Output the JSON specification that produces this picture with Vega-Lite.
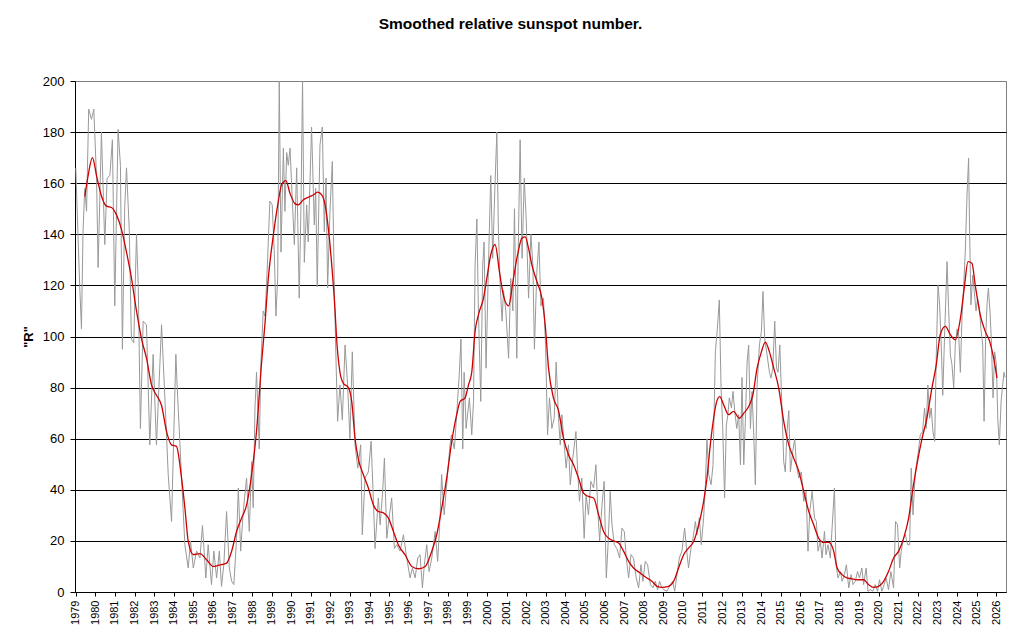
{
  "$schema": "https://vega.github.io/schema/vega-lite/v6.json",
  "width": 931,
  "height": 511,
  "autosize": {"type": "none"},
  "padding": {"left": 75, "top": 81, "right": 14, "bottom": 49},
  "background": "white",
  "title": {
    "text": "Smoothed relative sunspot number.",
    "font": "Liberation Sans",
    "fontSize": 15.5,
    "fontWeight": "bold",
    "color": "#000000",
    "anchor": "middle",
    "offset": 43,
    "dx": -30
  },
  "datasets": {
    "monthly": [
      {"t": 1979.00, "R": 166}, {"t": 1979.12, "R": 138}, {"t": 1979.20, "R": 120}, {"t": 1979.29, "R": 103},
      {"t": 1979.37, "R": 141}, {"t": 1979.46, "R": 158}, {"t": 1979.55, "R": 149}, {"t": 1979.66, "R": 189},
      {"t": 1979.80, "R": 185}, {"t": 1979.92, "R": 189}, {"t": 1980.06, "R": 162}, {"t": 1980.14, "R": 127},
      {"t": 1980.31, "R": 180}, {"t": 1980.48, "R": 136}, {"t": 1980.60, "R": 162}, {"t": 1980.74, "R": 163},
      {"t": 1980.87, "R": 177}, {"t": 1980.99, "R": 112}, {"t": 1981.16, "R": 181}, {"t": 1981.28, "R": 167},
      {"t": 1981.38, "R": 95}, {"t": 1981.50, "R": 151}, {"t": 1981.59, "R": 166}, {"t": 1981.73, "R": 142},
      {"t": 1981.84, "R": 99}, {"t": 1981.96, "R": 97.5}, {"t": 1982.10, "R": 140}, {"t": 1982.19, "R": 120},
      {"t": 1982.30, "R": 64}, {"t": 1982.44, "R": 106}, {"t": 1982.61, "R": 104.6}, {"t": 1982.78, "R": 57.6},
      {"t": 1982.95, "R": 93}, {"t": 1983.12, "R": 57.6}, {"t": 1983.38, "R": 104.6}, {"t": 1983.55, "R": 76},
      {"t": 1983.72, "R": 46}, {"t": 1983.89, "R": 27.6}, {"t": 1984.11, "R": 93}, {"t": 1984.18, "R": 80},
      {"t": 1984.32, "R": 57.6}, {"t": 1984.57, "R": 18.5}, {"t": 1984.74, "R": 9.4}, {"t": 1984.86, "R": 20},
      {"t": 1985.00, "R": 9.4}, {"t": 1985.17, "R": 16}, {"t": 1985.34, "R": 13.3}, {"t": 1985.47, "R": 26},
      {"t": 1985.64, "R": 5.5}, {"t": 1985.76, "R": 18.5}, {"t": 1985.93, "R": 2.9}, {"t": 1986.05, "R": 16},
      {"t": 1986.19, "R": 5.5}, {"t": 1986.33, "R": 16}, {"t": 1986.44, "R": 2.2}, {"t": 1986.56, "R": 10.7},
      {"t": 1986.70, "R": 31.5}, {"t": 1986.84, "R": 9.4}, {"t": 1986.96, "R": 4.2}, {"t": 1987.07, "R": 2.9},
      {"t": 1987.21, "R": 21}, {"t": 1987.30, "R": 40.7}, {"t": 1987.42, "R": 16}, {"t": 1987.55, "R": 31.5},
      {"t": 1987.72, "R": 44.6}, {"t": 1987.86, "R": 23.7}, {"t": 1987.98, "R": 51}, {"t": 1988.06, "R": 33},
      {"t": 1988.15, "R": 72}, {"t": 1988.23, "R": 86}, {"t": 1988.37, "R": 56}, {"t": 1988.45, "R": 89},
      {"t": 1988.57, "R": 110}, {"t": 1988.66, "R": 108}, {"t": 1988.74, "R": 120}, {"t": 1988.80, "R": 131},
      {"t": 1988.91, "R": 153}, {"t": 1989.03, "R": 151.5}, {"t": 1989.14, "R": 132}, {"t": 1989.22, "R": 108},
      {"t": 1989.31, "R": 123}, {"t": 1989.39, "R": 200}, {"t": 1989.48, "R": 133}, {"t": 1989.60, "R": 173.7},
      {"t": 1989.68, "R": 149}, {"t": 1989.77, "R": 172}, {"t": 1989.85, "R": 167}, {"t": 1989.94, "R": 173.7},
      {"t": 1990.06, "R": 152.8}, {"t": 1990.16, "R": 136}, {"t": 1990.28, "R": 166}, {"t": 1990.41, "R": 115},
      {"t": 1990.50, "R": 151.5}, {"t": 1990.58, "R": 200}, {"t": 1990.67, "R": 129}, {"t": 1990.79, "R": 151.5},
      {"t": 1990.87, "R": 137}, {"t": 1991.04, "R": 182}, {"t": 1991.18, "R": 143.7}, {"t": 1991.25, "R": 158},
      {"t": 1991.33, "R": 119.5}, {"t": 1991.47, "R": 175}, {"t": 1991.59, "R": 182}, {"t": 1991.69, "R": 141},
      {"t": 1991.78, "R": 162}, {"t": 1991.86, "R": 119}, {"t": 1991.98, "R": 149}, {"t": 1992.10, "R": 168.5},
      {"t": 1992.20, "R": 120}, {"t": 1992.29, "R": 90}, {"t": 1992.37, "R": 66.8}, {"t": 1992.49, "R": 81},
      {"t": 1992.61, "R": 67.4}, {"t": 1992.75, "R": 96.7}, {"t": 1992.88, "R": 81}, {"t": 1993.00, "R": 60},
      {"t": 1993.12, "R": 94}, {"t": 1993.26, "R": 57.6}, {"t": 1993.40, "R": 48.5}, {"t": 1993.55, "R": 57.6},
      {"t": 1993.63, "R": 22.4}, {"t": 1993.77, "R": 44.6}, {"t": 1993.94, "R": 47}, {"t": 1994.08, "R": 59},
      {"t": 1994.20, "R": 35.5}, {"t": 1994.28, "R": 17}, {"t": 1994.45, "R": 36.8}, {"t": 1994.54, "R": 26.3},
      {"t": 1994.66, "R": 38}, {"t": 1994.76, "R": 52.4}, {"t": 1994.88, "R": 21}, {"t": 1995.00, "R": 29},
      {"t": 1995.13, "R": 36.8}, {"t": 1995.27, "R": 17}, {"t": 1995.39, "R": 18.5}, {"t": 1995.56, "R": 16},
      {"t": 1995.73, "R": 22.4}, {"t": 1995.90, "R": 13.3}, {"t": 1996.07, "R": 5.5}, {"t": 1996.19, "R": 9.4},
      {"t": 1996.33, "R": 5.5}, {"t": 1996.46, "R": 13.3}, {"t": 1996.58, "R": 14.6}, {"t": 1996.70, "R": 1.6},
      {"t": 1996.80, "R": 10.7}, {"t": 1996.92, "R": 18.5}, {"t": 1997.04, "R": 8}, {"t": 1997.18, "R": 13.3},
      {"t": 1997.35, "R": 23.7}, {"t": 1997.48, "R": 12}, {"t": 1997.60, "R": 29}, {"t": 1997.68, "R": 46},
      {"t": 1997.81, "R": 30.2}, {"t": 1997.94, "R": 42}, {"t": 1998.11, "R": 57.6}, {"t": 1998.18, "R": 61.5},
      {"t": 1998.33, "R": 56}, {"t": 1998.45, "R": 69.4}, {"t": 1998.57, "R": 83.7}, {"t": 1998.67, "R": 99},
      {"t": 1998.76, "R": 56}, {"t": 1998.83, "R": 86}, {"t": 1998.93, "R": 64}, {"t": 1999.10, "R": 76},
      {"t": 1999.22, "R": 61.5}, {"t": 1999.31, "R": 74.6}, {"t": 1999.39, "R": 128}, {"t": 1999.48, "R": 146},
      {"t": 1999.56, "R": 110}, {"t": 1999.68, "R": 74.6}, {"t": 1999.78, "R": 128}, {"t": 1999.85, "R": 137},
      {"t": 1999.95, "R": 87.6}, {"t": 2000.07, "R": 126.7}, {"t": 2000.19, "R": 163}, {"t": 2000.29, "R": 130.6},
      {"t": 2000.40, "R": 158}, {"t": 2000.50, "R": 180}, {"t": 2000.58, "R": 142}, {"t": 2000.67, "R": 120},
      {"t": 2000.77, "R": 106}, {"t": 2000.84, "R": 118}, {"t": 2000.96, "R": 110}, {"t": 2001.10, "R": 91.5},
      {"t": 2001.21, "R": 122.7}, {"t": 2001.32, "R": 110}, {"t": 2001.40, "R": 150}, {"t": 2001.52, "R": 91.5},
      {"t": 2001.61, "R": 142}, {"t": 2001.69, "R": 177}, {"t": 2001.79, "R": 130.6}, {"t": 2001.90, "R": 162},
      {"t": 2002.00, "R": 146}, {"t": 2002.12, "R": 115}, {"t": 2002.24, "R": 140}, {"t": 2002.34, "R": 128},
      {"t": 2002.42, "R": 95}, {"t": 2002.54, "R": 125}, {"t": 2002.65, "R": 137}, {"t": 2002.75, "R": 112},
      {"t": 2002.88, "R": 115}, {"t": 2002.99, "R": 96.7}, {"t": 2003.09, "R": 61.5}, {"t": 2003.19, "R": 76},
      {"t": 2003.31, "R": 64}, {"t": 2003.43, "R": 68}, {"t": 2003.53, "R": 90}, {"t": 2003.65, "R": 68},
      {"t": 2003.74, "R": 57.6}, {"t": 2003.82, "R": 69.4}, {"t": 2003.94, "R": 57.6}, {"t": 2004.04, "R": 48.5},
      {"t": 2004.16, "R": 57.6}, {"t": 2004.25, "R": 42}, {"t": 2004.38, "R": 52.4}, {"t": 2004.54, "R": 62.8},
      {"t": 2004.62, "R": 48.5}, {"t": 2004.72, "R": 35.5}, {"t": 2004.84, "R": 44.6}, {"t": 2004.96, "R": 21},
      {"t": 2005.06, "R": 38}, {"t": 2005.18, "R": 30.2}, {"t": 2005.30, "R": 43.3}, {"t": 2005.44, "R": 40.7},
      {"t": 2005.56, "R": 49.8}, {"t": 2005.66, "R": 31.5}, {"t": 2005.75, "R": 20}, {"t": 2005.87, "R": 34},
      {"t": 2005.98, "R": 43.3}, {"t": 2006.09, "R": 5.5}, {"t": 2006.17, "R": 17}, {"t": 2006.29, "R": 39.4},
      {"t": 2006.38, "R": 26.3}, {"t": 2006.50, "R": 18.5}, {"t": 2006.63, "R": 17}, {"t": 2006.77, "R": 13.3},
      {"t": 2006.89, "R": 25}, {"t": 2007.01, "R": 23.7}, {"t": 2007.11, "R": 13.3}, {"t": 2007.23, "R": 5.5},
      {"t": 2007.35, "R": 14.6}, {"t": 2007.48, "R": 13.3}, {"t": 2007.62, "R": 5.5}, {"t": 2007.74, "R": 1.6},
      {"t": 2007.86, "R": 10.7}, {"t": 2007.96, "R": 4.2}, {"t": 2008.08, "R": 12}, {"t": 2008.20, "R": 10.7},
      {"t": 2008.34, "R": 2.9}, {"t": 2008.47, "R": 1.6}, {"t": 2008.59, "R": 4.2}, {"t": 2008.71, "R": 0.9},
      {"t": 2008.81, "R": 4.2}, {"t": 2008.90, "R": 2.2}, {"t": 2009.02, "R": 0.9}, {"t": 2009.19, "R": 0.3},
      {"t": 2009.36, "R": 2.9}, {"t": 2009.48, "R": 4.2}, {"t": 2009.58, "R": 0.3}, {"t": 2009.70, "R": 6.8},
      {"t": 2009.82, "R": 13.3}, {"t": 2009.95, "R": 16}, {"t": 2010.09, "R": 25}, {"t": 2010.21, "R": 15},
      {"t": 2010.29, "R": 9.4}, {"t": 2010.41, "R": 17}, {"t": 2010.52, "R": 21}, {"t": 2010.64, "R": 27.6},
      {"t": 2010.72, "R": 22.4}, {"t": 2010.84, "R": 29}, {"t": 2010.94, "R": 18.5}, {"t": 2011.06, "R": 29},
      {"t": 2011.15, "R": 42}, {"t": 2011.23, "R": 60}, {"t": 2011.32, "R": 46}, {"t": 2011.44, "R": 42},
      {"t": 2011.54, "R": 49.8}, {"t": 2011.66, "R": 94}, {"t": 2011.76, "R": 103}, {"t": 2011.86, "R": 114.3},
      {"t": 2011.95, "R": 80}, {"t": 2012.03, "R": 65.4}, {"t": 2012.13, "R": 36.8}, {"t": 2012.22, "R": 65.4},
      {"t": 2012.30, "R": 69.4}, {"t": 2012.37, "R": 76}, {"t": 2012.48, "R": 72}, {"t": 2012.56, "R": 78.5},
      {"t": 2012.65, "R": 70.7}, {"t": 2012.75, "R": 64}, {"t": 2012.85, "R": 69.4}, {"t": 2012.94, "R": 49.8},
      {"t": 2013.02, "R": 84}, {"t": 2013.11, "R": 49.8}, {"t": 2013.19, "R": 66.8}, {"t": 2013.28, "R": 90},
      {"t": 2013.36, "R": 96.7}, {"t": 2013.45, "R": 64}, {"t": 2013.53, "R": 78.5}, {"t": 2013.62, "R": 61.5},
      {"t": 2013.70, "R": 42}, {"t": 2013.79, "R": 81}, {"t": 2013.91, "R": 96.7}, {"t": 2014.01, "R": 102},
      {"t": 2014.09, "R": 117.6}, {"t": 2014.18, "R": 99}, {"t": 2014.30, "R": 92.8}, {"t": 2014.42, "R": 86},
      {"t": 2014.50, "R": 83.7}, {"t": 2014.59, "R": 87.6}, {"t": 2014.69, "R": 106}, {"t": 2014.78, "R": 87.6},
      {"t": 2014.86, "R": 86}, {"t": 2014.95, "R": 96.7}, {"t": 2015.03, "R": 78.5}, {"t": 2015.15, "R": 51},
      {"t": 2015.23, "R": 47}, {"t": 2015.32, "R": 62.8}, {"t": 2015.41, "R": 71}, {"t": 2015.49, "R": 47},
      {"t": 2015.61, "R": 55}, {"t": 2015.71, "R": 60}, {"t": 2015.80, "R": 49.8}, {"t": 2015.92, "R": 44.6},
      {"t": 2016.05, "R": 47}, {"t": 2016.17, "R": 35.5}, {"t": 2016.29, "R": 39.4}, {"t": 2016.39, "R": 16},
      {"t": 2016.48, "R": 31.5}, {"t": 2016.60, "R": 39.4}, {"t": 2016.72, "R": 29}, {"t": 2016.82, "R": 27.6},
      {"t": 2016.90, "R": 16}, {"t": 2017.02, "R": 19.8}, {"t": 2017.11, "R": 13.3}, {"t": 2017.23, "R": 23.7},
      {"t": 2017.31, "R": 14.6}, {"t": 2017.41, "R": 18.5}, {"t": 2017.53, "R": 13.3}, {"t": 2017.65, "R": 29},
      {"t": 2017.74, "R": 40.7}, {"t": 2017.82, "R": 10.7}, {"t": 2017.92, "R": 5.5}, {"t": 2018.05, "R": 8},
      {"t": 2018.13, "R": 4.2}, {"t": 2018.25, "R": 6.8}, {"t": 2018.35, "R": 10.7}, {"t": 2018.47, "R": 1.6},
      {"t": 2018.59, "R": 6.8}, {"t": 2018.69, "R": 2.9}, {"t": 2018.80, "R": 4.2}, {"t": 2018.92, "R": 8},
      {"t": 2019.02, "R": 5.5}, {"t": 2019.14, "R": 9.4}, {"t": 2019.23, "R": 2.9}, {"t": 2019.36, "R": 9.4},
      {"t": 2019.45, "R": 0.3}, {"t": 2019.57, "R": 0.9}, {"t": 2019.70, "R": 0.3}, {"t": 2019.82, "R": 2.9},
      {"t": 2019.94, "R": 0.3}, {"t": 2020.04, "R": 4.8}, {"t": 2020.16, "R": 0.3}, {"t": 2020.28, "R": 2.9},
      {"t": 2020.38, "R": 5.5}, {"t": 2020.50, "R": 0.9}, {"t": 2020.62, "R": 8}, {"t": 2020.76, "R": 1.6},
      {"t": 2020.86, "R": 27.6}, {"t": 2020.96, "R": 26.3}, {"t": 2021.07, "R": 9.4}, {"t": 2021.15, "R": 16},
      {"t": 2021.27, "R": 21}, {"t": 2021.36, "R": 22.4}, {"t": 2021.48, "R": 18.5}, {"t": 2021.58, "R": 18.5},
      {"t": 2021.66, "R": 48.5}, {"t": 2021.75, "R": 30.2}, {"t": 2021.87, "R": 47}, {"t": 2021.95, "R": 51},
      {"t": 2022.04, "R": 56}, {"t": 2022.12, "R": 61.5}, {"t": 2022.24, "R": 62.8}, {"t": 2022.34, "R": 72},
      {"t": 2022.43, "R": 64}, {"t": 2022.51, "R": 81}, {"t": 2022.60, "R": 68}, {"t": 2022.68, "R": 72},
      {"t": 2022.77, "R": 62.8}, {"t": 2022.86, "R": 59}, {"t": 2022.94, "R": 92.8}, {"t": 2023.03, "R": 120},
      {"t": 2023.11, "R": 112.4}, {"t": 2023.20, "R": 95.3}, {"t": 2023.27, "R": 77}, {"t": 2023.37, "R": 102},
      {"t": 2023.49, "R": 129.3}, {"t": 2023.57, "R": 111}, {"t": 2023.66, "R": 92.8}, {"t": 2023.74, "R": 89},
      {"t": 2023.83, "R": 80}, {"t": 2023.91, "R": 96.7}, {"t": 2024.00, "R": 103}, {"t": 2024.08, "R": 101},
      {"t": 2024.17, "R": 86}, {"t": 2024.25, "R": 107}, {"t": 2024.34, "R": 120}, {"t": 2024.42, "R": 133},
      {"t": 2024.51, "R": 155.4}, {"t": 2024.59, "R": 169.8}, {"t": 2024.64, "R": 142}, {"t": 2024.71, "R": 112.4},
      {"t": 2024.80, "R": 124}, {"t": 2024.88, "R": 117.6}, {"t": 2024.97, "R": 110}, {"t": 2025.05, "R": 115},
      {"t": 2025.14, "R": 111}, {"t": 2025.22, "R": 103}, {"t": 2025.31, "R": 96.7}, {"t": 2025.38, "R": 66.8},
      {"t": 2025.46, "R": 99}, {"t": 2025.53, "R": 112.4}, {"t": 2025.60, "R": 119}, {"t": 2025.68, "R": 110},
      {"t": 2025.75, "R": 99}, {"t": 2025.84, "R": 76}, {"t": 2025.92, "R": 94}, {"t": 2026.01, "R": 89},
      {"t": 2026.08, "R": 68}, {"t": 2026.16, "R": 57.6}, {"t": 2026.25, "R": 74.6}, {"t": 2026.33, "R": 81},
      {"t": 2026.40, "R": 86}, {"t": 2026.45, "R": 84}
    ],
    "smoothed": [
      {"t": 1979.46, "R": 154.8}, {"t": 1979.63, "R": 163}, {"t": 1979.85, "R": 170}, {"t": 1980.06, "R": 163},
      {"t": 1980.31, "R": 155}, {"t": 1980.57, "R": 151}, {"t": 1980.82, "R": 150.5}, {"t": 1981.08, "R": 147.6},
      {"t": 1981.33, "R": 142}, {"t": 1981.59, "R": 133}, {"t": 1981.84, "R": 123}, {"t": 1982.10, "R": 110},
      {"t": 1982.36, "R": 99}, {"t": 1982.61, "R": 91.5}, {"t": 1982.87, "R": 81}, {"t": 1983.12, "R": 77},
      {"t": 1983.38, "R": 73}, {"t": 1983.63, "R": 63}, {"t": 1983.89, "R": 57.6}, {"t": 1984.14, "R": 57},
      {"t": 1984.40, "R": 44.6}, {"t": 1984.57, "R": 33}, {"t": 1984.74, "R": 20}, {"t": 1985.00, "R": 14.6},
      {"t": 1985.34, "R": 15}, {"t": 1985.68, "R": 12.6}, {"t": 1986.02, "R": 10}, {"t": 1986.27, "R": 10.4},
      {"t": 1986.70, "R": 11.3}, {"t": 1986.96, "R": 16}, {"t": 1987.21, "R": 23.7}, {"t": 1987.47, "R": 29},
      {"t": 1987.72, "R": 34}, {"t": 1987.98, "R": 46}, {"t": 1988.23, "R": 63}, {"t": 1988.49, "R": 90},
      {"t": 1988.66, "R": 105}, {"t": 1988.83, "R": 122.7}, {"t": 1989.09, "R": 139.8}, {"t": 1989.34, "R": 152.8},
      {"t": 1989.51, "R": 159.4}, {"t": 1989.73, "R": 161}, {"t": 1989.94, "R": 156}, {"t": 1990.19, "R": 152},
      {"t": 1990.36, "R": 151.5}, {"t": 1990.62, "R": 153.5}, {"t": 1990.87, "R": 154.5}, {"t": 1991.13, "R": 155.4},
      {"t": 1991.35, "R": 156.5}, {"t": 1991.56, "R": 155.4}, {"t": 1991.73, "R": 151.5}, {"t": 1991.90, "R": 142},
      {"t": 1992.07, "R": 128}, {"t": 1992.24, "R": 110}, {"t": 1992.32, "R": 99}, {"t": 1992.49, "R": 86},
      {"t": 1992.66, "R": 81.7}, {"t": 1992.92, "R": 80}, {"t": 1993.09, "R": 74.6}, {"t": 1993.26, "R": 60},
      {"t": 1993.43, "R": 52}, {"t": 1993.68, "R": 46}, {"t": 1993.94, "R": 40.7}, {"t": 1994.20, "R": 34},
      {"t": 1994.45, "R": 31.5}, {"t": 1994.71, "R": 31}, {"t": 1994.96, "R": 29}, {"t": 1995.22, "R": 23.7},
      {"t": 1995.47, "R": 18.5}, {"t": 1995.81, "R": 14.6}, {"t": 1996.16, "R": 10}, {"t": 1996.50, "R": 9.1},
      {"t": 1996.84, "R": 10}, {"t": 1997.18, "R": 16}, {"t": 1997.43, "R": 22.4}, {"t": 1997.69, "R": 33},
      {"t": 1997.94, "R": 44.6}, {"t": 1998.20, "R": 59}, {"t": 1998.45, "R": 69.4}, {"t": 1998.63, "R": 74.6},
      {"t": 1998.88, "R": 76}, {"t": 1999.05, "R": 81}, {"t": 1999.22, "R": 86}, {"t": 1999.39, "R": 102},
      {"t": 1999.56, "R": 108.5}, {"t": 1999.82, "R": 115}, {"t": 1999.99, "R": 122.8}, {"t": 2000.19, "R": 132},
      {"t": 2000.41, "R": 136}, {"t": 2000.64, "R": 125}, {"t": 2000.84, "R": 116}, {"t": 2001.10, "R": 112},
      {"t": 2001.35, "R": 122.8}, {"t": 2001.56, "R": 132}, {"t": 2001.78, "R": 138.5}, {"t": 2001.95, "R": 139},
      {"t": 2002.12, "R": 134.5}, {"t": 2002.29, "R": 128}, {"t": 2002.54, "R": 121.6}, {"t": 2002.80, "R": 115},
      {"t": 2002.97, "R": 104.6}, {"t": 2003.14, "R": 87.6}, {"t": 2003.39, "R": 76}, {"t": 2003.65, "R": 71},
      {"t": 2003.91, "R": 60}, {"t": 2004.16, "R": 53.7}, {"t": 2004.42, "R": 49.8}, {"t": 2004.67, "R": 44.6},
      {"t": 2004.93, "R": 38.7}, {"t": 2005.18, "R": 37.4}, {"t": 2005.44, "R": 36.8}, {"t": 2005.70, "R": 30.2},
      {"t": 2005.95, "R": 23.7}, {"t": 2006.21, "R": 21}, {"t": 2006.46, "R": 20}, {"t": 2006.72, "R": 19.2},
      {"t": 2006.97, "R": 16}, {"t": 2007.23, "R": 12}, {"t": 2007.48, "R": 9.4}, {"t": 2007.82, "R": 7.4},
      {"t": 2008.16, "R": 5.5}, {"t": 2008.42, "R": 4.2}, {"t": 2008.68, "R": 2.2}, {"t": 2008.93, "R": 1.8},
      {"t": 2009.27, "R": 2.2}, {"t": 2009.53, "R": 4.2}, {"t": 2009.78, "R": 9.4}, {"t": 2010.04, "R": 14.6},
      {"t": 2010.29, "R": 17.2}, {"t": 2010.55, "R": 19.8}, {"t": 2010.81, "R": 26.3}, {"t": 2011.06, "R": 35.5},
      {"t": 2011.23, "R": 44.6}, {"t": 2011.40, "R": 57.6}, {"t": 2011.57, "R": 68}, {"t": 2011.71, "R": 74},
      {"t": 2011.88, "R": 76.5}, {"t": 2012.08, "R": 73.3}, {"t": 2012.34, "R": 69.4}, {"t": 2012.59, "R": 70.7},
      {"t": 2012.88, "R": 68}, {"t": 2013.11, "R": 70}, {"t": 2013.36, "R": 72.6}, {"t": 2013.57, "R": 77},
      {"t": 2013.79, "R": 87.6}, {"t": 2014.01, "R": 94}, {"t": 2014.21, "R": 97.8}, {"t": 2014.42, "R": 94},
      {"t": 2014.64, "R": 87.6}, {"t": 2014.89, "R": 80}, {"t": 2015.15, "R": 66.8}, {"t": 2015.41, "R": 57.6},
      {"t": 2015.66, "R": 52.4}, {"t": 2015.92, "R": 47.2}, {"t": 2016.17, "R": 39.4}, {"t": 2016.43, "R": 31.5},
      {"t": 2016.68, "R": 26.3}, {"t": 2016.94, "R": 21}, {"t": 2017.19, "R": 19.4}, {"t": 2017.45, "R": 19.4},
      {"t": 2017.70, "R": 16}, {"t": 2017.88, "R": 9.4}, {"t": 2018.13, "R": 6.8}, {"t": 2018.37, "R": 5.5},
      {"t": 2018.60, "R": 5.2}, {"t": 2018.89, "R": 4.8}, {"t": 2019.23, "R": 4.8}, {"t": 2019.48, "R": 2.9},
      {"t": 2019.74, "R": 1.8}, {"t": 2019.99, "R": 2.2}, {"t": 2020.25, "R": 4.2}, {"t": 2020.50, "R": 8},
      {"t": 2020.76, "R": 13.3}, {"t": 2021.02, "R": 16}, {"t": 2021.27, "R": 21}, {"t": 2021.53, "R": 29},
      {"t": 2021.75, "R": 40.7}, {"t": 2021.95, "R": 49.8}, {"t": 2022.21, "R": 60}, {"t": 2022.46, "R": 68},
      {"t": 2022.72, "R": 80}, {"t": 2022.94, "R": 89}, {"t": 2023.14, "R": 100.7}, {"t": 2023.40, "R": 104},
      {"t": 2023.66, "R": 100.7}, {"t": 2023.91, "R": 98.7}, {"t": 2024.17, "R": 107}, {"t": 2024.37, "R": 119},
      {"t": 2024.56, "R": 129.3}, {"t": 2024.76, "R": 128.7}, {"t": 2024.93, "R": 120}, {"t": 2025.19, "R": 108.3},
      {"t": 2025.44, "R": 102}, {"t": 2025.67, "R": 98}, {"t": 2025.87, "R": 91.5}, {"t": 2026.04, "R": 83.7}
    ]
  },
  "layer": [
    {
      "data": {"name": "monthly"},
      "mark": {"type": "line", "color": "#999999", "strokeWidth": 1, "clip": true},
      "encoding": {
        "x": {
          "field": "t",
          "type": "quantitative",
          "scale": {"domain": [1978.96, 2026.5], "nice": false, "zero": false},
          "axis": {
            "title": null,
            "values": [1979, 1980, 1981, 1982, 1983, 1984, 1985, 1986, 1987, 1988, 1989, 1990, 1991, 1992, 1993, 1994,
                       1995, 1996, 1997, 1998, 1999, 2000, 2001, 2002, 2003, 2004, 2005, 2006, 2007, 2008, 2009, 2010,
                       2011, 2012, 2013, 2014, 2015, 2016, 2017, 2018, 2019, 2020, 2021, 2022, 2023, 2024, 2025, 2026],
            "tickCount": 100,
            "format": "d",
            "grid": false,
            "labelAngle": -90,
            "labelFontSize": 11,
            "labelPadding": 4,
            "labelOverlap": false,
            "labelFlush": false,
            "labelBound": false,
            "tickSize": 4,
            "tickColor": "#000000",
            "domainColor": "#000000",
            "labelColor": "#000000"
          }
        },
        "y": {
          "field": "R",
          "type": "quantitative",
          "scale": {"domain": [0, 200], "nice": false},
          "axis": {
            "title": "\"R\"",
            "values": [0, 20, 40, 60, 80, 100, 120, 140, 160, 180, 200],
            "tickCount": 20,
            "grid": true,
            "gridColor": {"condition": {"test": "datum.value >= 200", "value": "#808080"}, "value": "#000000"},
            "gridWidth": 1,
            "gridOpacity": 1,
            "labelFontSize": 13,
            "labelPadding": 6,
            "tickSize": 5,
            "tickColor": "#000000",
            "domainColor": "#000000",
            "labelColor": "#000000",
            "titleFontSize": 13,
            "titleFontWeight": "bold",
            "titleColor": "#000000",
            "titlePadding": 7
          }
        }
      }
    },
    {
      "data": {"name": "smoothed"},
      "mark": {"type": "line", "color": "#cc0000", "strokeWidth": 1.3, "interpolate": "monotone", "clip": true},
      "encoding": {
        "x": {"field": "t", "type": "quantitative"},
        "y": {"field": "R", "type": "quantitative"}
      }
    }
  ],
  "config": {
    "view": {"stroke": "#808080", "strokeWidth": 1},
    "axis": {"labelFont": "Liberation Sans", "titleFont": "Liberation Sans"}
  }
}
